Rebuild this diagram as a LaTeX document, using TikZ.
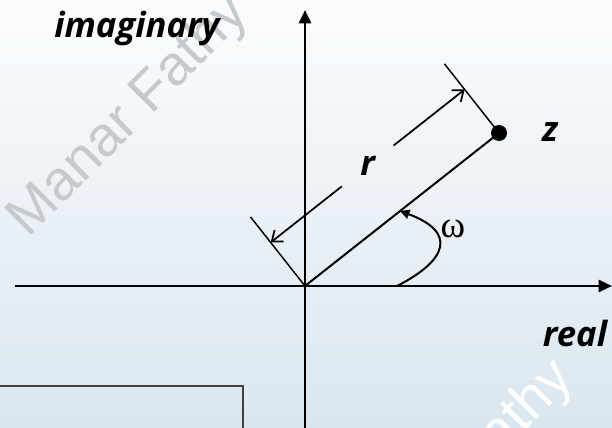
\documentclass[tikz,border=0pt]{standalone}
\usepackage{fontspec}
\newfontfamily\labelfont{Open Sans}
\newfontfamily\markfont{Liberation Sans}
\newfontfamily\greekfont{Liberation Serif}
\usepackage{tikz}
\usetikzlibrary{positioning,arrows.meta,calc}

\begin{document}
\begin{tikzpicture}[x=0.75pt, y=-0.75pt,
  axis/.style={line width=2pt, -{Triangle[length=10pt,width=9pt]}},
  lbl/.style={font=\labelfont\bfseries\itshape\fontsize{26}{30}\selectfont, inner sep=0pt},
  tickline/.style={line width=1.1pt},
  dimline/.style={line width=1.3pt, -{Straight Barb[length=7pt,width=11pt]}},
  wmark/.style={font=\markfont\fontsize{42}{48}\selectfont, rotate=45, inner sep=0pt}]
\useasboundingbox (0,0) rectangle (612,428);
% background and watermark
\fill[top color={rgb,255:red,251;green,252;blue,253}, bottom color={rgb,255:red,218;green,230;blue,239}] (0,0) rectangle (612,428);
\begin{scope}
\clip (0,0) rectangle (612,428);
\node[wmark, text={rgb,255:red,198;green,201;blue,205}] (wm1) at (129,117) {Manar Fathy};
\node[wmark, text=white] (wm2) at (454,482) {Manar Fathy};
\draw[line width=1pt, black!75] (0,386) -- (243,386) -- (243,430);
\end{scope}
% axes
\coordinate (O) at (305,286);
\coordinate (xl) at (15,286);
\coordinate (xr) at (612,286);
\coordinate (yb) at (305,430);
\coordinate (yt) at (305,10);
\draw[axis] (xl) -- (xr);
\draw[axis] (yb) -- (yt);
% point z and its radius
\node[circle, fill, inner sep=0pt, minimum size=12pt] (z) at (499,133) {};
\draw[line width=1.5pt] (O) -- (z.center);
% dimension r
\coordinate (tO) at ($(O)!66pt!90:(z.center)$);
\coordinate (tz) at ($(z.center)!66pt!-90:(O)$);
\draw[tickline] (O) -- (tO);
\draw[tickline] (z.center) -- (tz);
\coordinate (dA) at ($(O)!0.63!(tO)$);
\coordinate (dB) at ($(z.center)!0.63!(tz)$);
\node[lbl, circle, minimum size=49pt] (r) at ($(dA)!0.5!(dB)$) {r};
\draw[dimline] (r) -- (dA);
\draw[dimline] (r) -- (dB);
% angle
\coordinate (a0) at (397,286);
\coordinate (a1) at ($(O)!0.49!(z.center)$);
\draw[line width=1.5pt, -{Triangle[length=7pt,width=7pt]}] (a0) .. controls (448,260) and (457,232) .. (a1);
\node[font=\greekfont\fontsize{28}{32}\selectfont, inner sep=0pt, anchor=base] (w) at (453,238) {ω};
% labels
\node[lbl, anchor=base] (zl) at (550,142) {z};
\node[lbl, anchor=base] (im) at (137,38) {imaginary};
\node[lbl, anchor=base] (re) at (575,347) {real};
\end{tikzpicture}
\end{document}
